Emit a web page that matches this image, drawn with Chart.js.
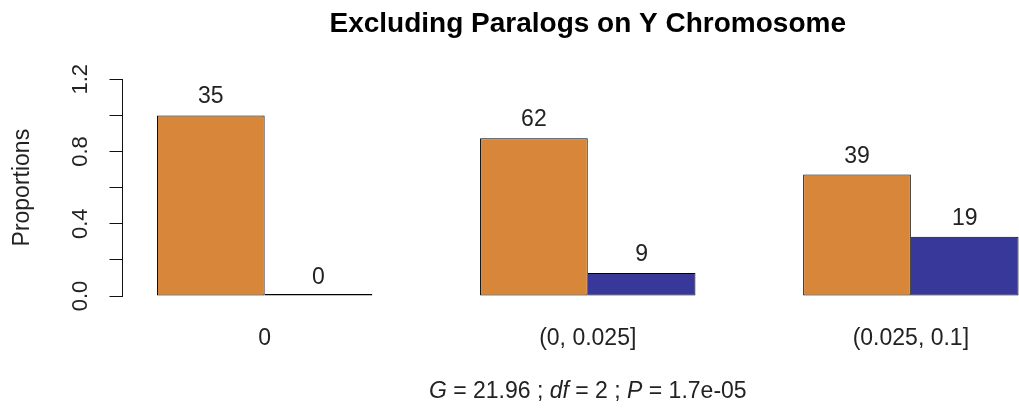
<!DOCTYPE html>
<html>
<head>
<meta charset="utf-8">
<script src="https://cdn.jsdelivr.net/npm/chart.js@4.4.1/dist/chart.umd.min.js"></script>
<style>
  html, body { margin: 0; padding: 0; background: #fff; overflow: hidden; }
  #wrap { width: 1019px; height: 410px; overflow: hidden; position: relative; }
  canvas { display: block; }
</style>
</head>
<body>
<div id="wrap"><canvas id="chart" width="1053" height="410"></canvas></div>
<script>
// Divergence classes on the x axis
const categories = ['0', '(0, 0.025]', '(0.025, 0.1]'];
// Gene counts per class for the two groups
const orangeCounts = [35, 62, 39];
const blueCounts = [0, 9, 19];
// Y axis ticks (every 0.2) and the ones that carry a label
const yTickValues = [0.0, 0.4, 0.8, 1.2];
const yTickLabels = ['0.0', '0.4', '0.8', '1.2'];
// Test statistic line under the plot (italic pieces flagged)
const statParts = [
  { text: 'G', italic: true },
  { text: ' = 21.96 ; ', italic: false },
  { text: 'df', italic: true },
  { text: ' = 2 ; ', italic: false },
  { text: 'P', italic: true },
  { text: ' = 1.7e-05', italic: false }
];

const FONT = '"Liberation Sans", Arial, sans-serif';
const ORANGE = '#D8873A';
const BLUE = '#38379A';
const EDGE = '#000';

// barplot(beside = TRUE) layout: each group is a one-unit gap plus two unit-wide bars
const groupCenters = categories.map((_, i) => i * 3 + 2);
const xLo = 1, xHi = categories.length * 3;
const xPad = (xHi - xLo) * 0.04;

// Proportions within each class
const totals = orangeCounts.map((c, i) => c + blueCounts[i]);
const orangeProp = orangeCounts.map((c, i) => ({ x: groupCenters[i], y: c / totals[i] }));
const blueProp = blueCounts.map((c, i) => ({ x: groupCenters[i], y: c / totals[i] }));

const countLabels = {
  id: 'countLabels',
  afterDatasetsDraw(chart) {
    const { ctx } = chart;
    const yScale = chart.scales.y;
    ctx.save();
    ctx.font = '23px ' + FONT;
    ctx.fillStyle = '#222';
    ctx.textAlign = 'center';
    ctx.textBaseline = 'alphabetic';
    chart.data.datasets.forEach((ds, di) => {
      chart.getDatasetMeta(di).data.forEach((bar, i) => {
        const top = yScale.getPixelForValue(ds.data[i].y);
        ctx.fillText(String(ds.counts[i]), bar.x, top - 12);
      });
    });
    ctx.restore();
  }
};

const statLine = {
  id: 'statLine',
  afterDraw(chart) {
    const { ctx, chartArea } = chart;
    ctx.save();
    ctx.fillStyle = '#222';
    ctx.textBaseline = 'alphabetic';
    ctx.textAlign = 'left';
    const fontFor = p => (p.italic ? 'italic ' : '') + '23px ' + FONT;
    let total = 0;
    statParts.forEach(p => { ctx.font = fontFor(p); total += ctx.measureText(p.text).width; });
    let x = (chartArea.left + chartArea.right) / 2 - total / 2;
    const y = chartArea.bottom + 102;
    statParts.forEach(p => {
      ctx.font = fontFor(p);
      ctx.fillText(p.text, x, y);
      x += ctx.measureText(p.text).width;
    });
    ctx.restore();
  }
};

new Chart(document.getElementById('chart'), {
  type: 'bar',
  data: {
    datasets: [
      {
        data: orangeProp,
        counts: orangeCounts,
        backgroundColor: ORANGE,
        borderColor: EDGE,
        borderWidth: 1,
        borderSkipped: false
      },
      {
        data: blueProp,
        counts: blueCounts,
        backgroundColor: BLUE,
        borderColor: EDGE,
        borderWidth: { top: 1, right: 1, bottom: 1, left: 0 },
        borderSkipped: false,
        minBarLength: 2
      }
    ]
  },
  options: {
    responsive: false,
    animation: false,
    events: [],
    layout: { padding: 0 },
    datasets: {
      bar: { categoryPercentage: 2 / 3, barPercentage: 1, grouped: true }
    },
    plugins: {
      legend: { display: false },
      tooltip: { enabled: false },
      title: {
        display: true,
        text: 'Excluding Paralogs on Y Chromosome',
        fullSize: false,
        color: '#000',
        font: { family: FONT, size: 28, weight: 'bold', lineHeight: 1.2 },
        padding: { top: 7, bottom: 38.7 }
      }
    },
    scales: {
      x: {
        type: 'linear',
        offset: false,
        min: xLo - xPad,
        max: xHi + xPad,
        grid: { display: false, drawTicks: false, offset: false },
        border: { display: false },
        afterBuildTicks: s => { s.ticks = groupCenters.map(v => ({ value: v })); },
        afterFit: s => { s.height = 114; },
        ticks: {
          autoSkip: false,
          maxRotation: 0,
          minRotation: 0,
          padding: 29,
          color: '#222',
          font: { family: FONT, size: 23 },
          callback: v => categories[groupCenters.indexOf(v)]
        }
      },
      y: {
        min: 0,
        max: 1.2,
        afterFit: s => { s.width = 122.5; },
        grid: { drawOnChartArea: false, drawTicks: true, tickLength: 13, color: '#111', lineWidth: 1 },
        border: { display: true, color: '#111', width: 1 },
        title: {
          display: true,
          text: 'Proportions',
          color: '#222',
          font: { family: FONT, size: 23, lineHeight: 1.2 },
          padding: { top: 9, bottom: 0 }
        },
        ticks: {
          stepSize: 0.2,
          autoSkip: false,
          minRotation: 90,
          maxRotation: 90,
          crossAlign: 'center',
          padding: 13.7,
          color: '#222',
          font: { family: FONT, size: 22 },
          callback: v => {
            const k = yTickValues.findIndex(t => Math.abs(t - v) < 1e-9);
            return k >= 0 ? yTickLabels[k] : '';
          }
        }
      }
    }
  },
  plugins: [countLabels, statLine]
});
</script>
</body>
</html>
